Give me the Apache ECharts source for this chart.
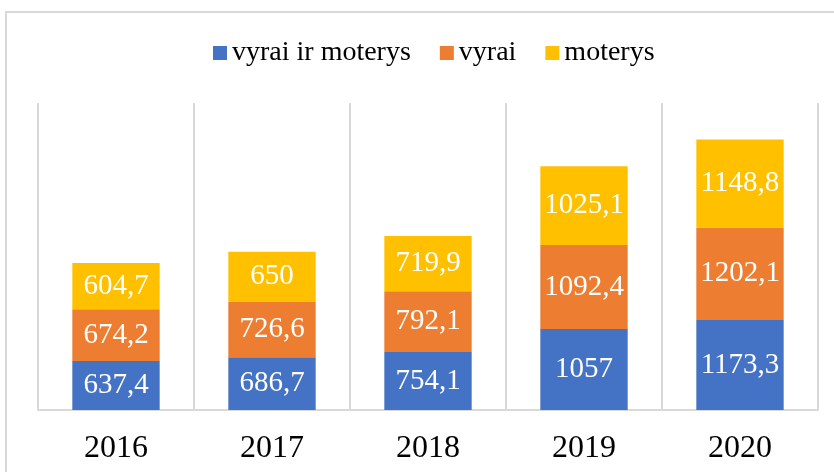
<!DOCTYPE html>
<html>
<head>
<meta charset="utf-8">
<script src="https://cdn.jsdelivr.net/npm/echarts@6/dist/echarts.min.js"></script>
<style>
  html, body { margin: 0; padding: 0; background: #fff; }
  #chart { width: 834px; height: 472px; }
</style>
</head>
<body>
<div id="chart"></div>
<script>
// duomenys
const years = ['2016', '2017', '2018', '2019', '2020']
const visi = [637.4, 686.7, 754.1, 1057, 1173.3]
const vyrai = [674.2, 726.6, 792.1, 1092.4, 1202.1]
const moterys = [604.7, 650, 719.9, 1025.1, 1148.8]

const FONT = 'Liberation Serif'

const chart = echarts.init(document.getElementById('chart'))

function makeSeries(name, data, color) {
  return {
    name: name,
    type: 'bar',
    stack: 'total',
    data: data,
    barWidth: '56%',
    itemStyle: { color: color },
    label: {
      show: true,
      position: 'inside',
      color: '#fff',
      fontFamily: FONT,
      fontSize: 29,
      formatter: p => String(p.value).replace('.', ',')
    }
  }
}

const option = {
  animation: false,
  textStyle: { fontFamily: FONT },
  graphic: [{
    type: 'rect',
    shape: { x: 6, y: 12, width: 900, height: 600 },
    style: { fill: 'none', stroke: '#d9d9d9', lineWidth: 2 },
    silent: true
  }],
  legend: {
    top: 34,
    left: 208,
    itemWidth: 14,
    itemHeight: 14,
    itemGap: 29,
    icon: 'rect',
    textStyle: { fontFamily: FONT, fontSize: 28, color: '#000' },
    data: ['vyrai ir moterys', 'vyrai', 'moterys']
  },
  grid: { left: 38, right: 16, top: 103, bottom: 62, containLabel: false },
  xAxis: {
    type: 'category',
    data: years,
    axisTick: { show: false },
    axisLine: { lineStyle: { color: '#d9d9d9', width: 2 } },
    splitLine: { show: true, lineStyle: { color: '#d9d9d9', width: 2 } },
    axisLabel: { margin: 23, fontFamily: FONT, fontSize: 32, color: '#000' }
  },
  yAxis: {
    type: 'value',
    min: 0,
    max: 4000,
    show: false,
    splitLine: { show: false }
  },
  series: [
    makeSeries('vyrai ir moterys', visi, '#4472C4'),
    makeSeries('vyrai', vyrai, '#ED7D31'),
    makeSeries('moterys', moterys, '#FFC000')
  ]
}

chart.setOption(option)
</script>
</body>
</html>
